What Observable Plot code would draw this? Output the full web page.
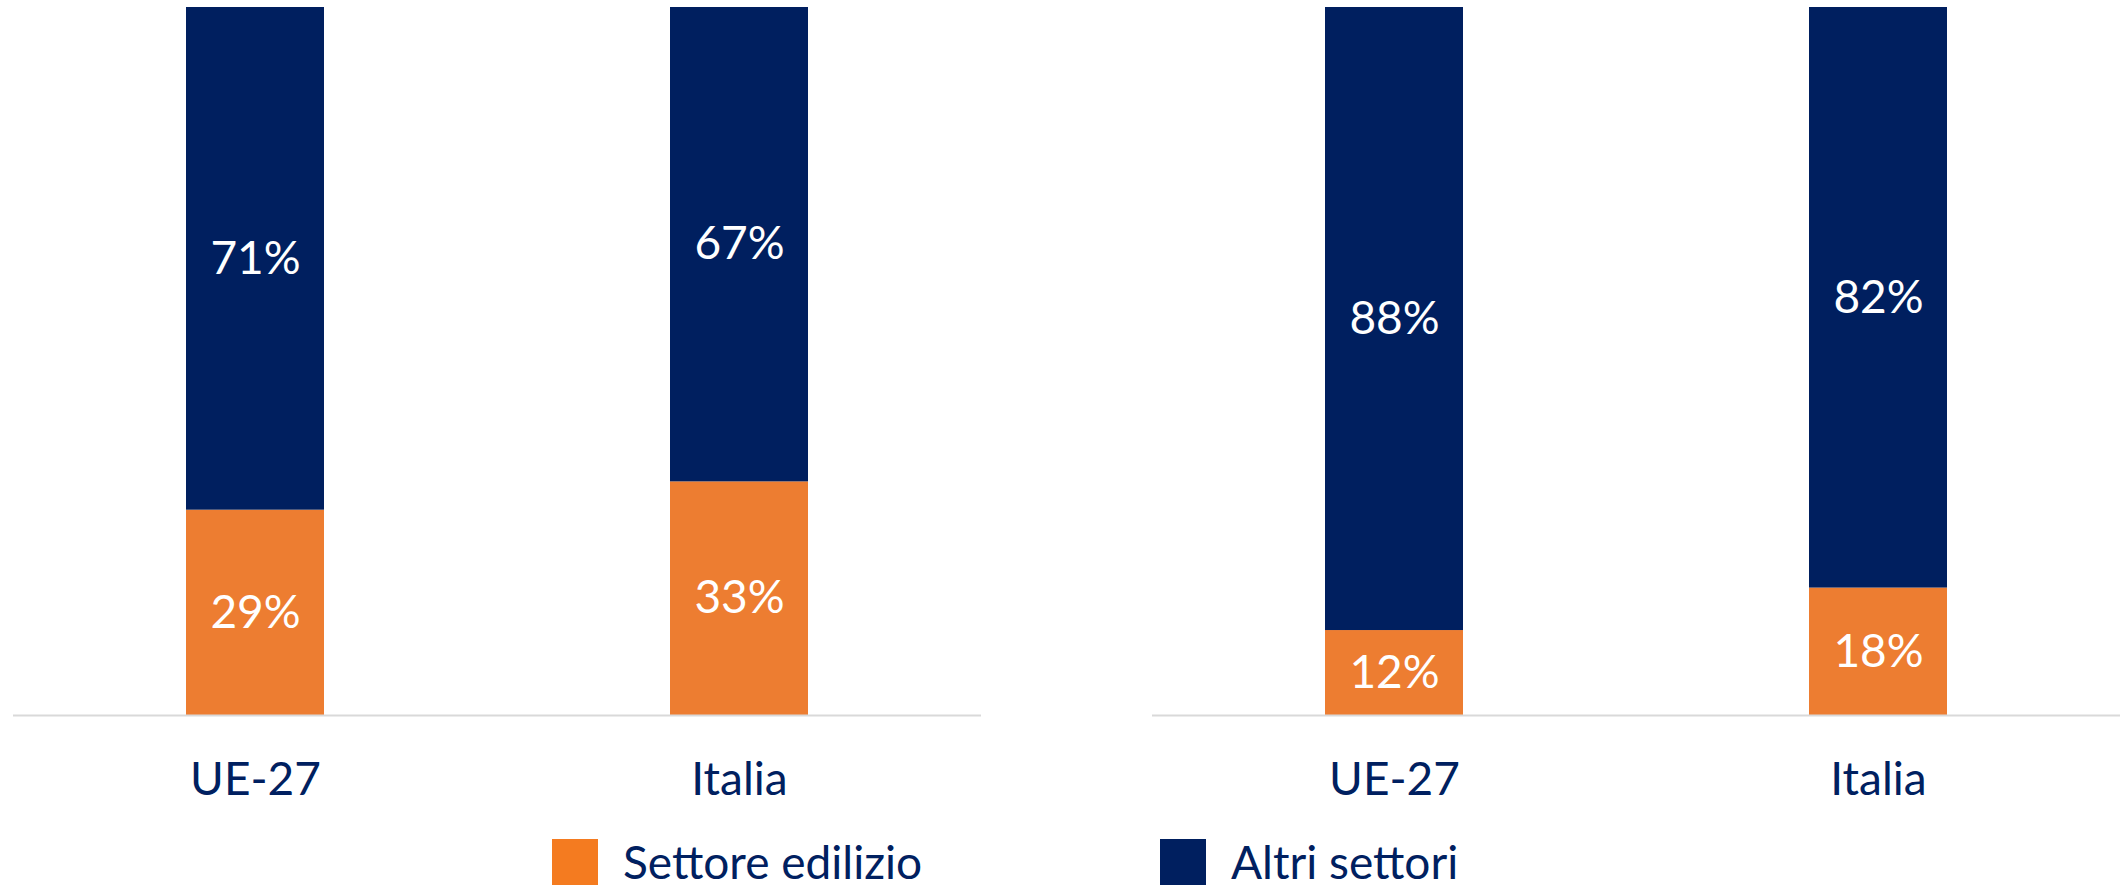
<!DOCTYPE html>
<html>
<head>
<meta charset="utf-8">
<script src="https://cdn.jsdelivr.net/npm/d3@7"></script>
<script src="https://cdn.jsdelivr.net/npm/@observablehq/plot@0.6"></script>
<style>
  html, body { margin: 0; padding: 0; background: #fff; }
  body { width: 2121px; height: 885px; overflow: hidden; font-family: Lato, "Open Sans", sans-serif; }
  #legend { position: relative; height: 70px; }
  .item { position: absolute; top: 24px; display: flex; align-items: flex-start; }
  .sw { width: 46px; height: 46px; }
  .lab { font-size: 46px; color: #002060; margin-left: 25px; line-height: 40px; height: 40px; margin-top: 3px; white-space: nowrap; }
</style>
</head>
<body>
<div id="chart"></div>
<div id="legend"></div>
<script>
const categories = ["UE-27", "Italia"];
const panels = ["Pannello 1", "Pannello 2"];
const series = ["Settore edilizio", "Altri settori"];
const edilizioPanel1 = [29, 33];
const altriPanel1 = [71, 67];
const edilizioPanel2 = [12, 18];
const altriPanel2 = [88, 82];
const barColors = ["#ED7D31", "#001F5F"];
const legendColors = ["#F47B20", "#001F5F"];

const rows = [];
[[edilizioPanel1, altriPanel1], [edilizioPanel2, altriPanel2]].forEach(([ed, al], p) => {
  categories.forEach((c, i) => {
    rows.push({panel: panels[p], country: c, series: series[0], value: ed[i]});
    rows.push({panel: panels[p], country: c, series: series[1], value: al[i]});
  });
});

const chart = Plot.plot({
  width: 2121,
  height: 815,
  marginTop: 7,
  marginBottom: 100,
  marginLeft: 13,
  marginRight: 0,
  style: {fontFamily: "Lato, 'Open Sans', sans-serif", background: "#fff"},
  fx: {domain: panels, paddingInner: 0.15, paddingOuter: 0, axis: null, label: null},
  x: {domain: categories, paddingInner: 0.715, paddingOuter: 0.3575, axis: null, label: null},
  y: {domain: [0, 100], axis: null},
  color: {domain: series, range: barColors},
  marks: [
    Plot.barY(rows, {fx: "panel", x: "country", y: "value", fill: "series"}),
    Plot.text(rows, Plot.stackY({fx: "panel", x: "country", y: "value", text: d => d.value + "%", fill: "white", fontSize: 46})),
    Plot.ruleY([0], {stroke: "#D9D9D9", strokeWidth: 2}),
    Plot.axisX({tickSize: 0, tickPadding: 47, fontSize: 46, fill: "#002060", label: null})
  ]
});
document.getElementById("chart").appendChild(chart);

const legend = document.getElementById("legend");
const legendLefts = [552, 1160];
series.forEach((s, i) => {
  const it = document.createElement("div");
  it.className = "item";
  it.style.left = legendLefts[i] + "px";
  it.innerHTML = `<div class="sw" style="background:${legendColors[i]}"></div><div class="lab">${s}</div>`;
  legend.appendChild(it);
});
</script>
</body>
</html>
